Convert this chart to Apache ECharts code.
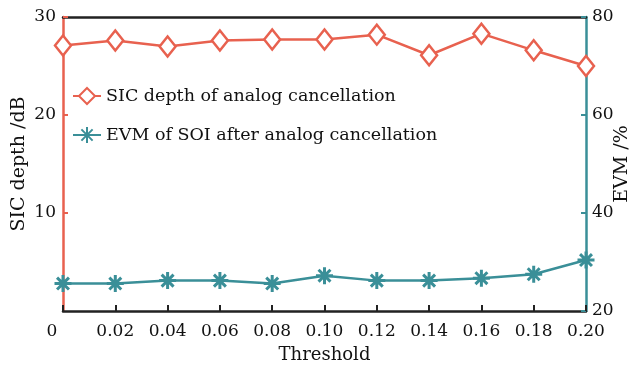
<!DOCTYPE html>
<html>
<head>
<meta charset="utf-8">
<script src="https://cdn.jsdelivr.net/npm/echarts@6/dist/echarts.min.js"></script>
<style>html,body{margin:0;padding:0;background:#fff}#c{width:635px;height:366px}</style>
</head>
<body>
<div id="c"></div>
<script>
const thresholds = [0, 0.02, 0.04, 0.06, 0.08, 0.10, 0.12, 0.14, 0.16, 0.18, 0.20];
const sicDepth = [27.1, 27.6, 27.0, 27.6, 27.7, 27.7, 28.2, 26.1, 28.3, 26.6, 25.0];
const evm = [25.6, 25.6, 26.2, 26.2, 25.6, 27.2, 26.2, 26.2, 26.7, 27.5, 30.4];
const xTickLabels = ['0', '0.02', '0.04', '0.06', '0.08', '0.10', '0.12', '0.14', '0.16', '0.18', '0.20'];
const seriesNames = ['SIC depth of analog cancellation', 'EVM of SOI after analog cancellation'];

const RED = '#E8614F';
const TEAL = '#3A8F98';
const FONT = 'DejaVu Serif';
const star = 'path://M0 10 L20 10 M10 0 L10 20 M3 3 L17 17 M17 3 L3 17';

const chart = echarts.init(document.getElementById('c'), null, {renderer: 'canvas'});
chart.setOption({
  animation: false,
  backgroundColor: '#fff',
  textStyle: {fontFamily: FONT, color: '#111'},
  grid: {left: 63, right: 49, top: 17, bottom: 55, containLabel: false, outerBoundsMode: 'none'},
  legend: {
    orient: 'vertical', left: 72, top: 87, padding: 0, itemWidth: 28, itemHeight: 20, itemGap: 21,
    textStyle: {fontFamily: FONT, fontSize: 17.5, color: '#111'},
    data: seriesNames
  },
  xAxis: [{
    type: 'value', min: 0, max: 0.2, interval: 0.02,
    name: 'Threshold', nameLocation: 'middle', nameGap: 35,
    nameTextStyle: {fontFamily: FONT, fontSize: 18, color: '#111'},
    axisLine: {onZero: false, lineStyle: {color: '#222', width: 2.5}},
    axisTick: {inside: true, length: 6, lineStyle: {color: '#222', width: 2}},
    axisLabel: {
      fontFamily: FONT, fontSize: 17, color: '#111', margin: 12,
      formatter: function (v) {
        const i = Math.round(v / 0.02);
        const t = xTickLabels[i];
        return i === 0 ? '{z|' + t + '}' : t;
      },
      rich: {z: {fontFamily: FONT, fontSize: 17, color: '#111', padding: [0, 22, 0, 0]}}
    },
    splitLine: {show: false}
  }, {
    type: 'value', min: 0, max: 0.2, position: 'top',
    axisLine: {show: true, onZero: false, lineStyle: {color: '#222', width: 2.5}},
    axisTick: {show: false}, axisLabel: {show: false}, splitLine: {show: false}
  }],
  yAxis: [{
    type: 'value', min: 0, max: 30, interval: 10, position: 'left',
    name: 'SIC depth /dB', nameLocation: 'middle', nameGap: 34, nameRotate: 90,
    nameMoveOverlap: false,
    nameTextStyle: {fontFamily: FONT, fontSize: 19, color: '#111'},
    axisLine: {show: true, onZero: false, lineStyle: {color: RED, width: 2.5}},
    axisTick: {show: true, inside: true, length: 5, lineStyle: {color: RED, width: 2}},
    axisLabel: {fontFamily: FONT, fontSize: 17, color: '#111', margin: 7, showMinLabel: false},
    splitLine: {show: false}
  }, {
    type: 'value', min: 20, max: 80, interval: 20, position: 'right',
    name: 'EVM /%', nameLocation: 'middle', nameGap: 27, nameRotate: 90,
    nameMoveOverlap: false,
    nameTextStyle: {fontFamily: FONT, fontSize: 19, color: '#111'},
    axisLine: {show: true, onZero: false, lineStyle: {color: TEAL, width: 2.5}},
    axisTick: {show: true, inside: true, length: 5, lineStyle: {color: TEAL, width: 2}},
    axisLabel: {fontFamily: FONT, fontSize: 17, color: '#111', margin: 6},
    splitLine: {show: false}
  }],
  series: [{
    name: seriesNames[0], type: 'line', yAxisIndex: 0, xAxisIndex: 0,
    data: thresholds.map((t, i) => [t, sicDepth[i]]),
    symbol: 'diamond', symbolSize: [16, 20],
    lineStyle: {color: RED, width: 2.5},
    itemStyle: {color: '#fff', borderColor: RED, borderWidth: 2.5},
    z: 3
  }, {
    name: seriesNames[1], type: 'line', yAxisIndex: 1, xAxisIndex: 0,
    data: thresholds.map((t, i) => [t, evm[i]]),
    symbol: star, symbolSize: 17,
    lineStyle: {color: TEAL, width: 2.5},
    itemStyle: {color: TEAL, borderColor: TEAL, borderWidth: 3},
    z: 3
  }]
});
</script>
</body>
</html>
